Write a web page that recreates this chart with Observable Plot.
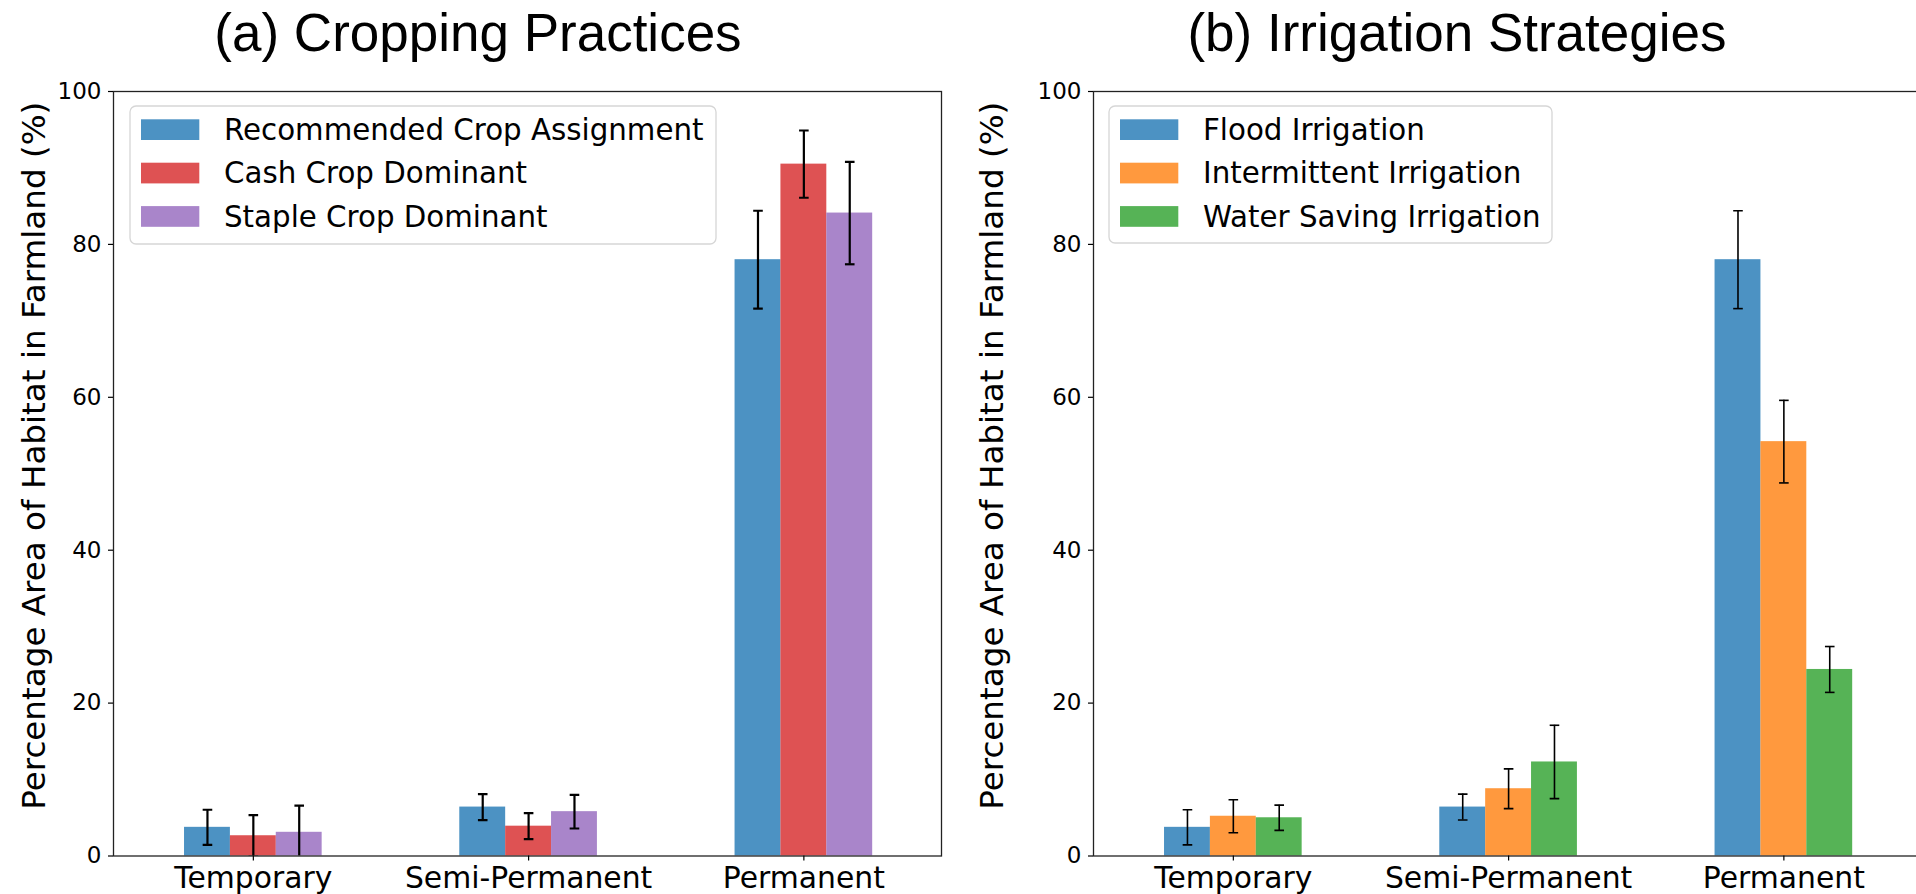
<!DOCTYPE html>
<html>
<head>
<meta charset="utf-8">
<script src="https://cdn.jsdelivr.net/npm/d3@7"></script>
<script src="https://cdn.jsdelivr.net/npm/@observablehq/plot@0.6"></script>
<style>
  html, body { margin: 0; padding: 0; background: #fff; }
  #root { position: relative; width: 1916px; height: 894px; overflow: hidden; background: #fff; }
  .panel { position: absolute; top: 0; }
  .title { position: absolute; top: 6px; width: 900px; text-align: center; font-family: "Liberation Sans", Arial, sans-serif; font-size: 53px; line-height: 1; color: #000; white-space: nowrap; }
  .legend { position: absolute; }
</style>
</head>
<body>
<div id="root"></div>
<script>
// ---------- data ----------
const categories = ["Temporary", "Semi-Permanent", "Permanent"];
const yTicks = [0, 20, 40, 60, 80, 100];
const yLabel = "Percentage Area of Habitat in Farmland (%)";

const croppingTitle = "(a) Cropping Practices";
const croppingSeries = ["Recommended Crop Assignment", "Cash Crop Dominant", "Staple Crop Dominant"];
const croppingColors = ["#1f77b4", "#d62728", "#9467bd"];
const recommendedValues = [3.75, 6.4, 78.0];
const recommendedErrors = [2.3, 1.7, 6.4];
const cashValues = [2.65, 3.9, 90.5];
const cashErrors = [2.7, 1.7, 4.4];
const stapleValues = [3.1, 5.8, 84.1];
const stapleErrors = [3.5, 2.2, 6.7];

const irrigationTitle = "(b) Irrigation Strategies";
const irrigationSeries = ["Flood Irrigation", "Intermittent Irrigation", "Water Saving Irrigation"];
const irrigationColors = ["#1f77b4", "#ff7f0e", "#2ca02c"];
const floodValues = [3.75, 6.4, 78.0];
const floodErrors = [2.3, 1.7, 6.4];
const intermittentValues = [5.2, 8.8, 54.2];
const intermittentErrors = [2.15, 2.6, 5.4];
const waterSavingValues = [5.0, 12.3, 24.4];
const waterSavingErrors = [1.65, 4.8, 3.0];

// ---------- helpers ----------
const BAR_W = 1 / 6;
const capSymbol = { draw(ctx) { ctx.moveTo(-4.8, 0); ctx.lineTo(4.8, 0); } };

function buildRows(series, colors, values, errors) {
  const rows = [];
  series.forEach((s, si) => {
    categories.forEach((c, ci) => {
      const pos = ci + (si - 1) * BAR_W;
      rows.push({
        series: s, category: c, color: colors[si],
        value: values[si][ci], err: errors[si][ci],
        pos, x1: pos - BAR_W / 2, x2: pos + BAR_W / 2
      });
    });
  });
  return rows;
}

function panel({rows, width, marginLeft, errWidth}) {
  return Plot.plot({
    width, height: 894,
    marginLeft, marginRight: 17, marginTop: 91, marginBottom: 38.5,
    x: {domain: [-0.508, 2.5]},
    y: {domain: [0, 100]},
    color: {type: "identity"},
    style: {fontFamily: "DejaVu Sans", color: "#000", background: "transparent", overflow: "visible"},
    marks: [
      Plot.rectY(rows, {x1: "x1", x2: "x2", y: "value", fill: "color", fillOpacity: 0.8}),
      Plot.ruleX(rows, {x: "pos", y1: d => d.value - d.err, y2: d => d.value + d.err, stroke: "#000", strokeWidth: errWidth, clip: true}),
      Plot.dot(rows, {x: "pos", y: d => d.value - d.err, symbol: capSymbol, stroke: "#000", fill: "none", strokeWidth: errWidth, clip: true}),
      Plot.dot(rows, {x: "pos", y: d => d.value + d.err, symbol: capSymbol, stroke: "#000", fill: "none", strokeWidth: errWidth, clip: true}),
      Plot.frame({stroke: "#222", strokeWidth: 1.3}),
      Plot.axisY({ticks: yTicks, tickSize: 5, tickPadding: 7, fontSize: 23, label: null, strokeWidth: 1.2}),
      Plot.axisX({ticks: [0, 1, 2], tickFormat: i => categories[i], tickSize: 5, tickPadding: 6, fontSize: 29.8, label: null, strokeWidth: 1.2}),
      Plot.text([yLabel], {frameAnchor: "left", rotate: -90, dx: -(marginLeft - 44), dy: -18, fontSize: 32.6, lineAnchor: "bottom", textAnchor: "middle", fill: "#000"})
    ]
  });
}

function legend(root, {left, top, width, height, series, colors}) {
  const svg = d3.create("svg")
    .attr("class", "legend")
    .attr("width", width + 2).attr("height", height + 2)
    .style("left", (left - 1) + "px").style("top", (top - 1) + "px");
  svg.append("rect")
    .attr("x", 1).attr("y", 1).attr("width", width).attr("height", height)
    .attr("rx", 6).attr("ry", 6)
    .attr("fill", "rgba(255,255,255,0.8)").attr("stroke", "#d6d6d6").attr("stroke-width", 1.3);
  series.forEach((s, i) => {
    const yTop = 14.3 + i * 43.4;
    svg.append("rect")
      .attr("x", 12).attr("y", yTop).attr("width", 58.3).attr("height", 20.7)
      .attr("fill", colors[i]).attr("fill-opacity", 0.8);
    svg.append("text")
      .attr("x", 95).attr("y", yTop + 20.7)
      .attr("font-family", "DejaVu Sans").attr("font-size", 29.3)
      .attr("fill", "#000")
      .text(s);
  });
  root.appendChild(svg.node());
}

// ---------- build ----------
const root = document.getElementById("root");

const croppingRows = buildRows(croppingSeries, croppingColors,
  [recommendedValues, cashValues, stapleValues],
  [recommendedErrors, cashErrors, stapleErrors]);
const irrigationRows = buildRows(irrigationSeries, irrigationColors,
  [floodValues, intermittentValues, waterSavingValues],
  [floodErrors, intermittentErrors, waterSavingErrors]);

const left = panel({rows: croppingRows, width: 958, marginLeft: 113, errWidth: 2.2});
left.classList.add("panel");
left.style.left = "0px";
root.appendChild(left);

const right = panel({rows: irrigationRows, width: 980, marginLeft: 135, errWidth: 1.6});
right.classList.add("panel");
right.style.left = "958px";
root.appendChild(right);

legend(root, {left: 130, top: 106, width: 586, height: 138, series: croppingSeries, colors: croppingColors});
legend(root, {left: 1109, top: 106, width: 443, height: 137, series: irrigationSeries, colors: irrigationColors});

const t1 = document.createElement("div");
t1.className = "title"; t1.style.left = (478 - 450) + "px"; t1.textContent = croppingTitle;
root.appendChild(t1);
const t2 = document.createElement("div");
t2.className = "title"; t2.style.left = (1457 - 450) + "px"; t2.textContent = irrigationTitle;
root.appendChild(t2);
</script>
</body>
</html>
